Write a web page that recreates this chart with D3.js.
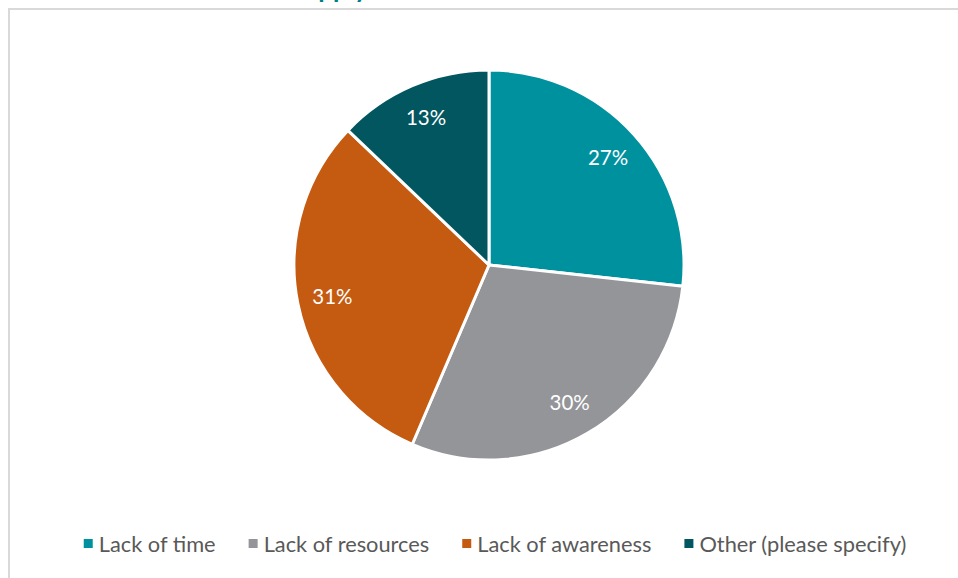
<!DOCTYPE html>
<html>
<head>
<meta charset="utf-8">
<script src="https://cdn.jsdelivr.net/npm/d3@7"></script>
<style>
  html, body { margin: 0; padding: 0; background: #fff; }
  svg { display: block; }
</style>
</head>
<body>
<svg id="chart" width="958" height="578"></svg>
<script>
// Survey answers and their shares (percent)
const categories = ["Lack of time", "Lack of resources", "Lack of awareness", "Other (please specify)"];
const shares = [27, 30, 31, 13];
const colors = ["#00919f", "#949599", "#c55a11", "#02565f"];
const title = "Main barriers to action: select all that apply";

const W = 958, H = 578;
const svg = d3.select("#chart");

// Chart area frame
svg.append("rect")
  .attr("x", 9).attr("y", 9)
  .attr("width", W + 20).attr("height", H + 20)
  .attr("fill", "#fff")
  .attr("stroke", "#d9d9d9").attr("stroke-width", 2);

// Title sits above the frame
svg.append("text")
  .attr("x", 368).attr("y", -2)
  .attr("text-anchor", "end")
  .attr("font-family", "Lato, 'Open Sans', sans-serif")
  .attr("font-weight", "bold")
  .attr("font-size", 26)
  .attr("fill", "#007c89")
  .text(title);

const cx = 489, cy = 265, r = 195;
const data = categories.map((c, i) => ({ name: c, value: shares[i], color: colors[i] }));

const pie = d3.pie().value(d => d.value).sort(null);
const arc = d3.arc().innerRadius(0).outerRadius(r);
const labelArc = d3.arc().innerRadius(r * 0.82).outerRadius(r * 0.82);

const g = svg.append("g").attr("transform", `translate(${cx},${cy})`);
const arcs = pie(data);

g.selectAll("path.slice")
  .data(arcs)
  .join("path")
  .attr("class", "slice")
  .attr("d", arc)
  .attr("fill", d => d.data.color)
  .attr("stroke", "#fff")
  .attr("stroke-width", 3)
  .attr("stroke-linejoin", "round");

g.selectAll("text.pct")
  .data(arcs)
  .join("text")
  .attr("class", "pct")
  .attr("transform", d => `translate(${labelArc.centroid(d)})`)
  .attr("text-anchor", "middle")
  .attr("dy", "0.35em")
  .attr("font-family", "Lato, 'Open Sans', sans-serif")
  .attr("font-size", 20.5)
  .attr("fill", "#fff")
  .text(d => d.data.value + "%");

// Legend, centred under the pie
const legend = svg.append("g");
const items = legend.selectAll("g.item")
  .data(data)
  .join("g")
  .attr("class", "item");

items.append("rect")
  .attr("width", 9).attr("height", 9)
  .attr("y", -13)
  .attr("fill", d => d.color);

items.append("text")
  .attr("x", 15)
  .attr("font-family", "Lato, 'Open Sans', sans-serif")
  .attr("font-size", 21.8)
  .attr("fill", "#595959")
  .text(d => d.name);

const gap = 33;
let xPos = 0;
const offsets = [];
items.each(function () {
  const w = 15 + d3.select(this).select("text").node().getComputedTextLength();
  offsets.push(xPos);
  xPos += w + gap;
});
const total = xPos - gap;
items.attr("transform", (d, i) => `translate(${offsets[i]},0)`);
legend.attr("transform", `translate(${495 - total / 2},552)`);
</script>
</body>
</html>
